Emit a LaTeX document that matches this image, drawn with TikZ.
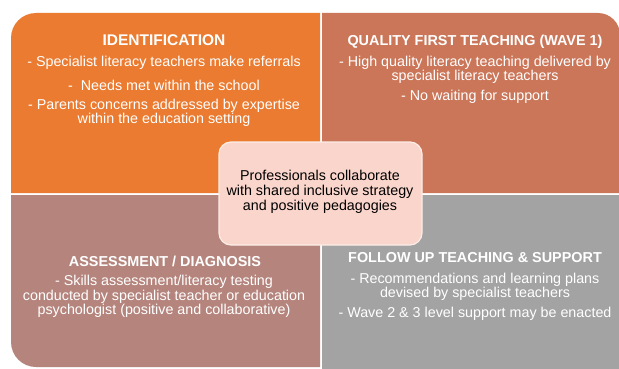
\documentclass[tikz,border=0pt]{standalone}
\usepackage{fontspec}
\setmainfont{Liberation Sans}
\begin{document}
\definecolor{cIdent}{HTML}{EB7B30}
\definecolor{cQuality}{HTML}{CB7659}
\definecolor{cAssess}{HTML}{B5857D}
\definecolor{cFollow}{HTML}{A3A3A3}
\definecolor{cCentre}{HTML}{FAD5CB}
\definecolor{cCentreEdge}{HTML}{FDEDE8}
\begin{tikzpicture}[x=1pt,y=-1pt,
  head/.style={inner sep=0pt, text=white, font=\bfseries\fontsize{14.4}{16}\selectfont},
  bighead/.style={head, font=\bfseries\fontsize{15.5}{17}\selectfont},
  body/.style={inner sep=0pt, text=white, align=center, font=\fontsize{14.3}{14.3}\selectfont},
  core/.style={inner sep=0pt, text=black, align=center, font=\fontsize{14.3}{15}\selectfont}]
\useasboundingbox (0,0) rectangle (619,369);
\fill[white] (0,0) rectangle (619,369);

% four quadrants
\fill[cIdent] (11,193) -- (11,38) arc[start angle=180,end angle=270,radius=25] -- (320,13) -- (320,193) -- cycle;
\fill[cQuality] (322,193) -- (322,13) -- (598,13) arc[start angle=270,end angle=360,radius=22] -- (620,193) -- cycle;
\fill[cAssess] (11,195) -- (320,195) -- (320,367) -- (36,367) arc[start angle=90,end angle=180,radius=25] -- cycle;
\fill[cFollow] (322,195) rectangle (620,369);

% central box
\node[draw=cCentreEdge, line width=1.2pt, fill=cCentre, rounded corners=12pt,
      minimum width=203pt, minimum height=103pt, inner sep=0pt] (centre) at (320.5,193.5) {};
\node[core] (centreText) at (320,192) {Professionals collaborate\\with shared inclusive strategy\\and positive pedagogies};

% identification
\node[bighead] (identHead) at (164,40) {IDENTIFICATION};
\node[body] (identA) at (164,63) {- Specialist literacy teachers make referrals};
\node[body] (identB) at (164,85) {-\ \ Needs met within the school};
\node[body] (identC) at (164,113) {- Parents concerns addressed by expertise\\within the education setting};

% quality first teaching
\node[head] (qualHead) at (475,42) {QUALITY FIRST TEACHING (WAVE 1)};
\node[body] (qualA) at (475,70) {- High quality literacy teaching delivered by\\specialist literacy teachers};
\node[body] (qualB) at (475,97) {- No waiting for support};

% assessment / diagnosis
\node[head] (assHead) at (165,261) {ASSESSMENT / DIAGNOSIS};
\node[body] (assA) at (164,296.5) {- Skills assessment/literacy testing\\conducted by specialist teacher or education\\psychologist (positive and collaborative)};

% follow up
\node[head] (follHead) at (475,258) {FOLLOW UP TEACHING \& SUPPORT};
\node[body] (follA) at (475,286.5) {- Recommendations and learning plans\\devised by specialist teachers};
\node[body] (follB) at (475,314) {- Wave 2 \& 3 level support may be enacted};
\end{tikzpicture}
\end{document}
